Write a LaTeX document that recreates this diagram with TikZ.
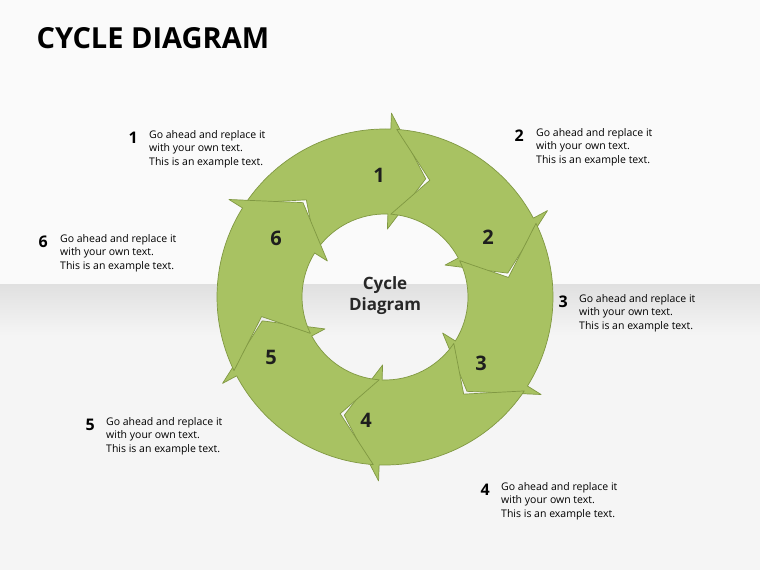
\documentclass[tikz,border=0pt]{standalone}
\usepackage{fontspec}
\setmainfont{Open Sans}
\begin{document}
\begin{tikzpicture}[x=1pt,y=1pt,
  seg/.style={fill={rgb,255:red,168;green,194;blue,98},draw={rgb,255:red,128;green,152;blue,66},line width=0.7pt,line join=round},
  ringnum/.style={font=\fontsize{20}{22}\selectfont\bfseries,text={rgb,255:red,30;green,30;blue,30}},
  lab/.style={font=\fontsize{10.5}{13.5}\selectfont,align=left,anchor=north west,inner sep=0pt},
  labnum/.style={font=\fontsize{16}{18}\selectfont\bfseries,anchor=north east,inner sep=0pt}]
\useasboundingbox (0,0) rectangle (760,570);
\fill[gray!4] (0,285) rectangle (760,570);
\shade[top color=gray!24,bottom color=gray!8] (0,235) rectangle (760,285);
\fill[gray!8] (0,0) rectangle (760,235);
\node[anchor=west,font=\fontsize{29}{32}\selectfont\bfseries] (title) at (33,532) {CYCLE DIAGRAM};
\begin{scope}[shift={(385,273)}]
\foreach \k in {1,...,6}{
  \pgfmathsetmacro{\T}{71-60*(\k-1)}
  \pgfmathsetmacro{\A}{\T+75}
  \pgfmathsetmacro{\B}{\T+17}
  \pgfmathsetmacro{\N}{\T+58}
  \draw[seg] (\A:168) arc[start angle=\A,end angle=\B,radius=168] -- (\B:184) -- (\T:125) -- (\B:68) -- (\B:83) arc[start angle=\B,end angle=\A,radius=83] -- (\N:125) -- cycle;
}
\end{scope}
\node[ringnum] (r1) at (379,395) {1};
\node[ringnum] (r2) at (488,333) {2};
\node[ringnum] (r3) at (481,207) {3};
\node[ringnum] (r4) at (366,150) {4};
\node[ringnum] (r5) at (271,213) {5};
\node[ringnum] (r6) at (276,332) {6};
\node[font=\fontsize{17}{21}\selectfont\bfseries,align=center,text={rgb,255:red,40;green,40;blue,40}] (c) at (385,274) {Cycle\\Diagram};
\newcommand{\mytxt}{Go ahead and replace it\\with your own text.\\This is an example text.}
\node[labnum] (n1) at (138,438) {1}; \node[lab] (t1) at (149,440) {\mytxt};
\node[labnum] (n2) at (524,440) {2}; \node[lab] (t2) at (536,442) {\mytxt};
\node[labnum] (n6) at (48,334) {6}; \node[lab] (t6) at (60,336) {\mytxt};
\node[labnum] (n3) at (568,274) {3}; \node[lab] (t3) at (579,276) {\mytxt};
\node[labnum] (n5) at (95,151) {5}; \node[lab] (t5) at (106,153) {\mytxt};
\node[labnum] (n4) at (490,86) {4}; \node[lab] (t4) at (501,88) {\mytxt};
\end{tikzpicture}
\end{document}
